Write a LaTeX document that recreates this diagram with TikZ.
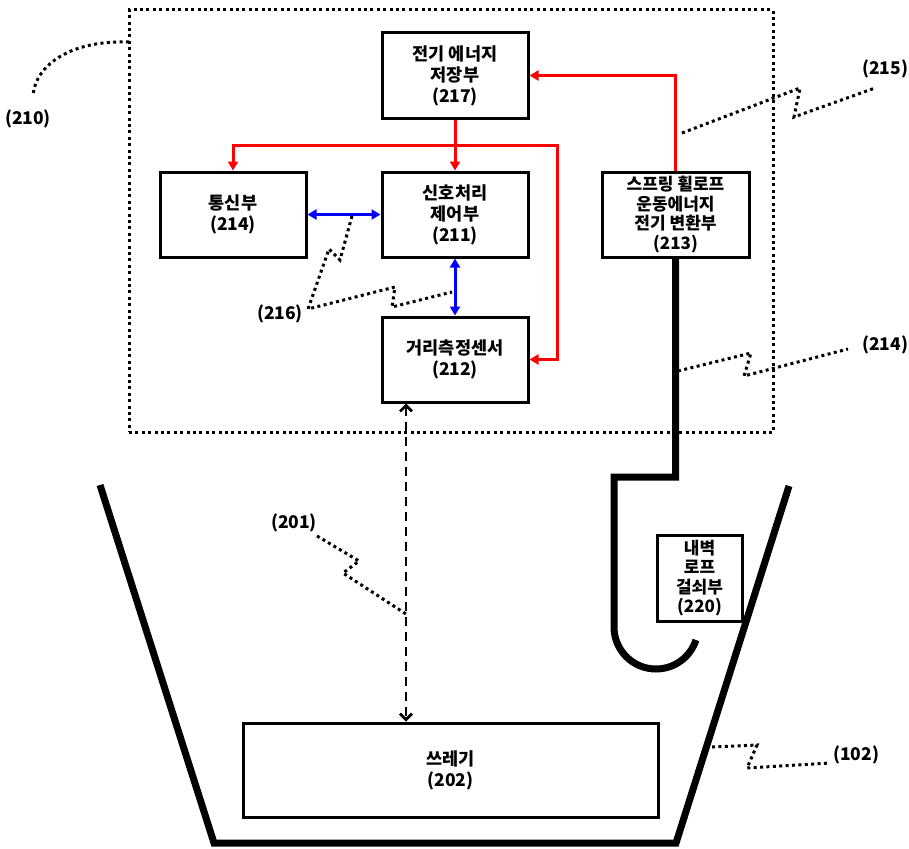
\documentclass[tikz,border=0pt]{standalone}
\usepackage{fontspec}
\setmainfont{Noto Sans CJK KR}
\usetikzlibrary{arrows.meta}
\tikzset{
  txt/.style={font=\fontsize{17.5}{21}\selectfont\bfseries, align=center},
  box/.style={txt, draw, line width=3pt, inner sep=0pt},
  tightbox/.style={box, font=\fontsize{17}{19.5}\selectfont\bfseries},
  lbl/.style={txt, inner sep=0pt},
  dotframe/.style={draw, line width=3pt, dash pattern=on 3pt off 3.4pt, inner sep=0pt},
  leader/.style={line width=3pt, dash pattern=on 3pt off 3.4pt},
  redarrow/.style={draw=red, line width=3pt, -{Triangle[length=9pt,width=10pt]}},
  bluearrow/.style={draw=blue, line width=3pt, {Triangle[length=9pt,width=10pt]}-{Triangle[length=9pt,width=10pt]}},
  dasharrow/.style={line width=2.8pt, dash pattern=on 9pt off 6pt,
    {Straight Barb[length=6pt,width=12pt,line width=2.8pt]}-{Straight Barb[length=6pt,width=12pt,line width=2.8pt]}},
  thickline/.style={line width=7pt},
}
\begin{document}
\begin{tikzpicture}[x=1pt,y=-1pt]
\useasboundingbox (0,0) rectangle (909,848);
% frame
\node[dotframe, minimum width=644pt, minimum height=422pt] (frame) at (451,221) {};
% boxes
\node[box, minimum width=146pt, minimum height=85pt] (e217) at (455,75.5) {전기 에너지\\저장부\\(217)};
\node[box, minimum width=146pt, minimum height=85pt] (c214) at (233,214.5) {통신부\\(214)};
\node[box, minimum width=146pt, minimum height=85pt] (s211) at (455,214.5) {신호처리\\제어부\\(211)};
\node[box, minimum width=146pt, minimum height=85pt] (d212) at (455,359.5) {거리측정센서\\(212)};
\node[tightbox, minimum width=147pt, minimum height=85pt] (v213) at (675.5,214.5) {스프링 휠로프\\운동에너지\\전기 변환부\\(213)};
\node[tightbox, minimum width=85pt, minimum height=86pt] (h220) at (699.5,578) {내벽\\로프\\걸쇠부\\(220)};
\node[box, minimum width=415pt, minimum height=94pt] (g202) at (450.5,770) {쓰레기\\(202)};
% labels
\node[lbl] (l210) at (28,119) {(210)};
\node[lbl] (l216) at (280,314) {(216)};
\node[lbl] (l215) at (885,69) {(215)};
\node[lbl] (l214) at (885,345) {(214)};
\node[lbl] (l201) at (294,523) {(201)};
\node[lbl] (l102) at (856,755) {(102)};
% red power lines
\coordinate (jr) at (455,145);
\coordinate (jr2) at (557,145);
\draw[redarrow] (e217.south) -- (s211.north);
\draw[redarrow] (jr) -| (c214.north);
\draw[redarrow] (jr) -- (jr2) |- (d212.east);
\draw[redarrow] (v213.north) |- (e217.east);
% blue signal lines
\draw[bluearrow] (c214.east) -- (s211.west);
\draw[bluearrow] (s211.south) -- (d212.north);
% dashed measurement
\coordinate (dx) at (406,0);
\draw[dasharrow] (d212.south -| dx) -- (g202.north -| dx);
% rope
\draw[thickline] (v213.south) -- (675.5,477) -- (614,477) -- (614,627)
  arc[start angle=180, end angle=18, radius=42];
% bin
\draw[thickline] (100,485) -- (214,843) -- (676,843) -- (789,486);
% leaders
\draw[leader] (129,42) .. controls (72,40) and (36,64) .. (33,95);
\draw[leader] (352,216) -- (340,260) -- (329,249) -- (308,309) -- (395,287) -- (392,307) -- (452,292);
\draw[leader] (682,133) -- (800,88) -- (794,117) -- (875,88);
\draw[leader] (678,371) -- (751,353) -- (744,376) -- (848,349);
\draw[leader] (317,536) -- (359,561) -- (343,573) -- (406,614);
\draw[leader] (712,747) -- (757,745) -- (747,768) -- (830,763);
\end{tikzpicture}
\end{document}
